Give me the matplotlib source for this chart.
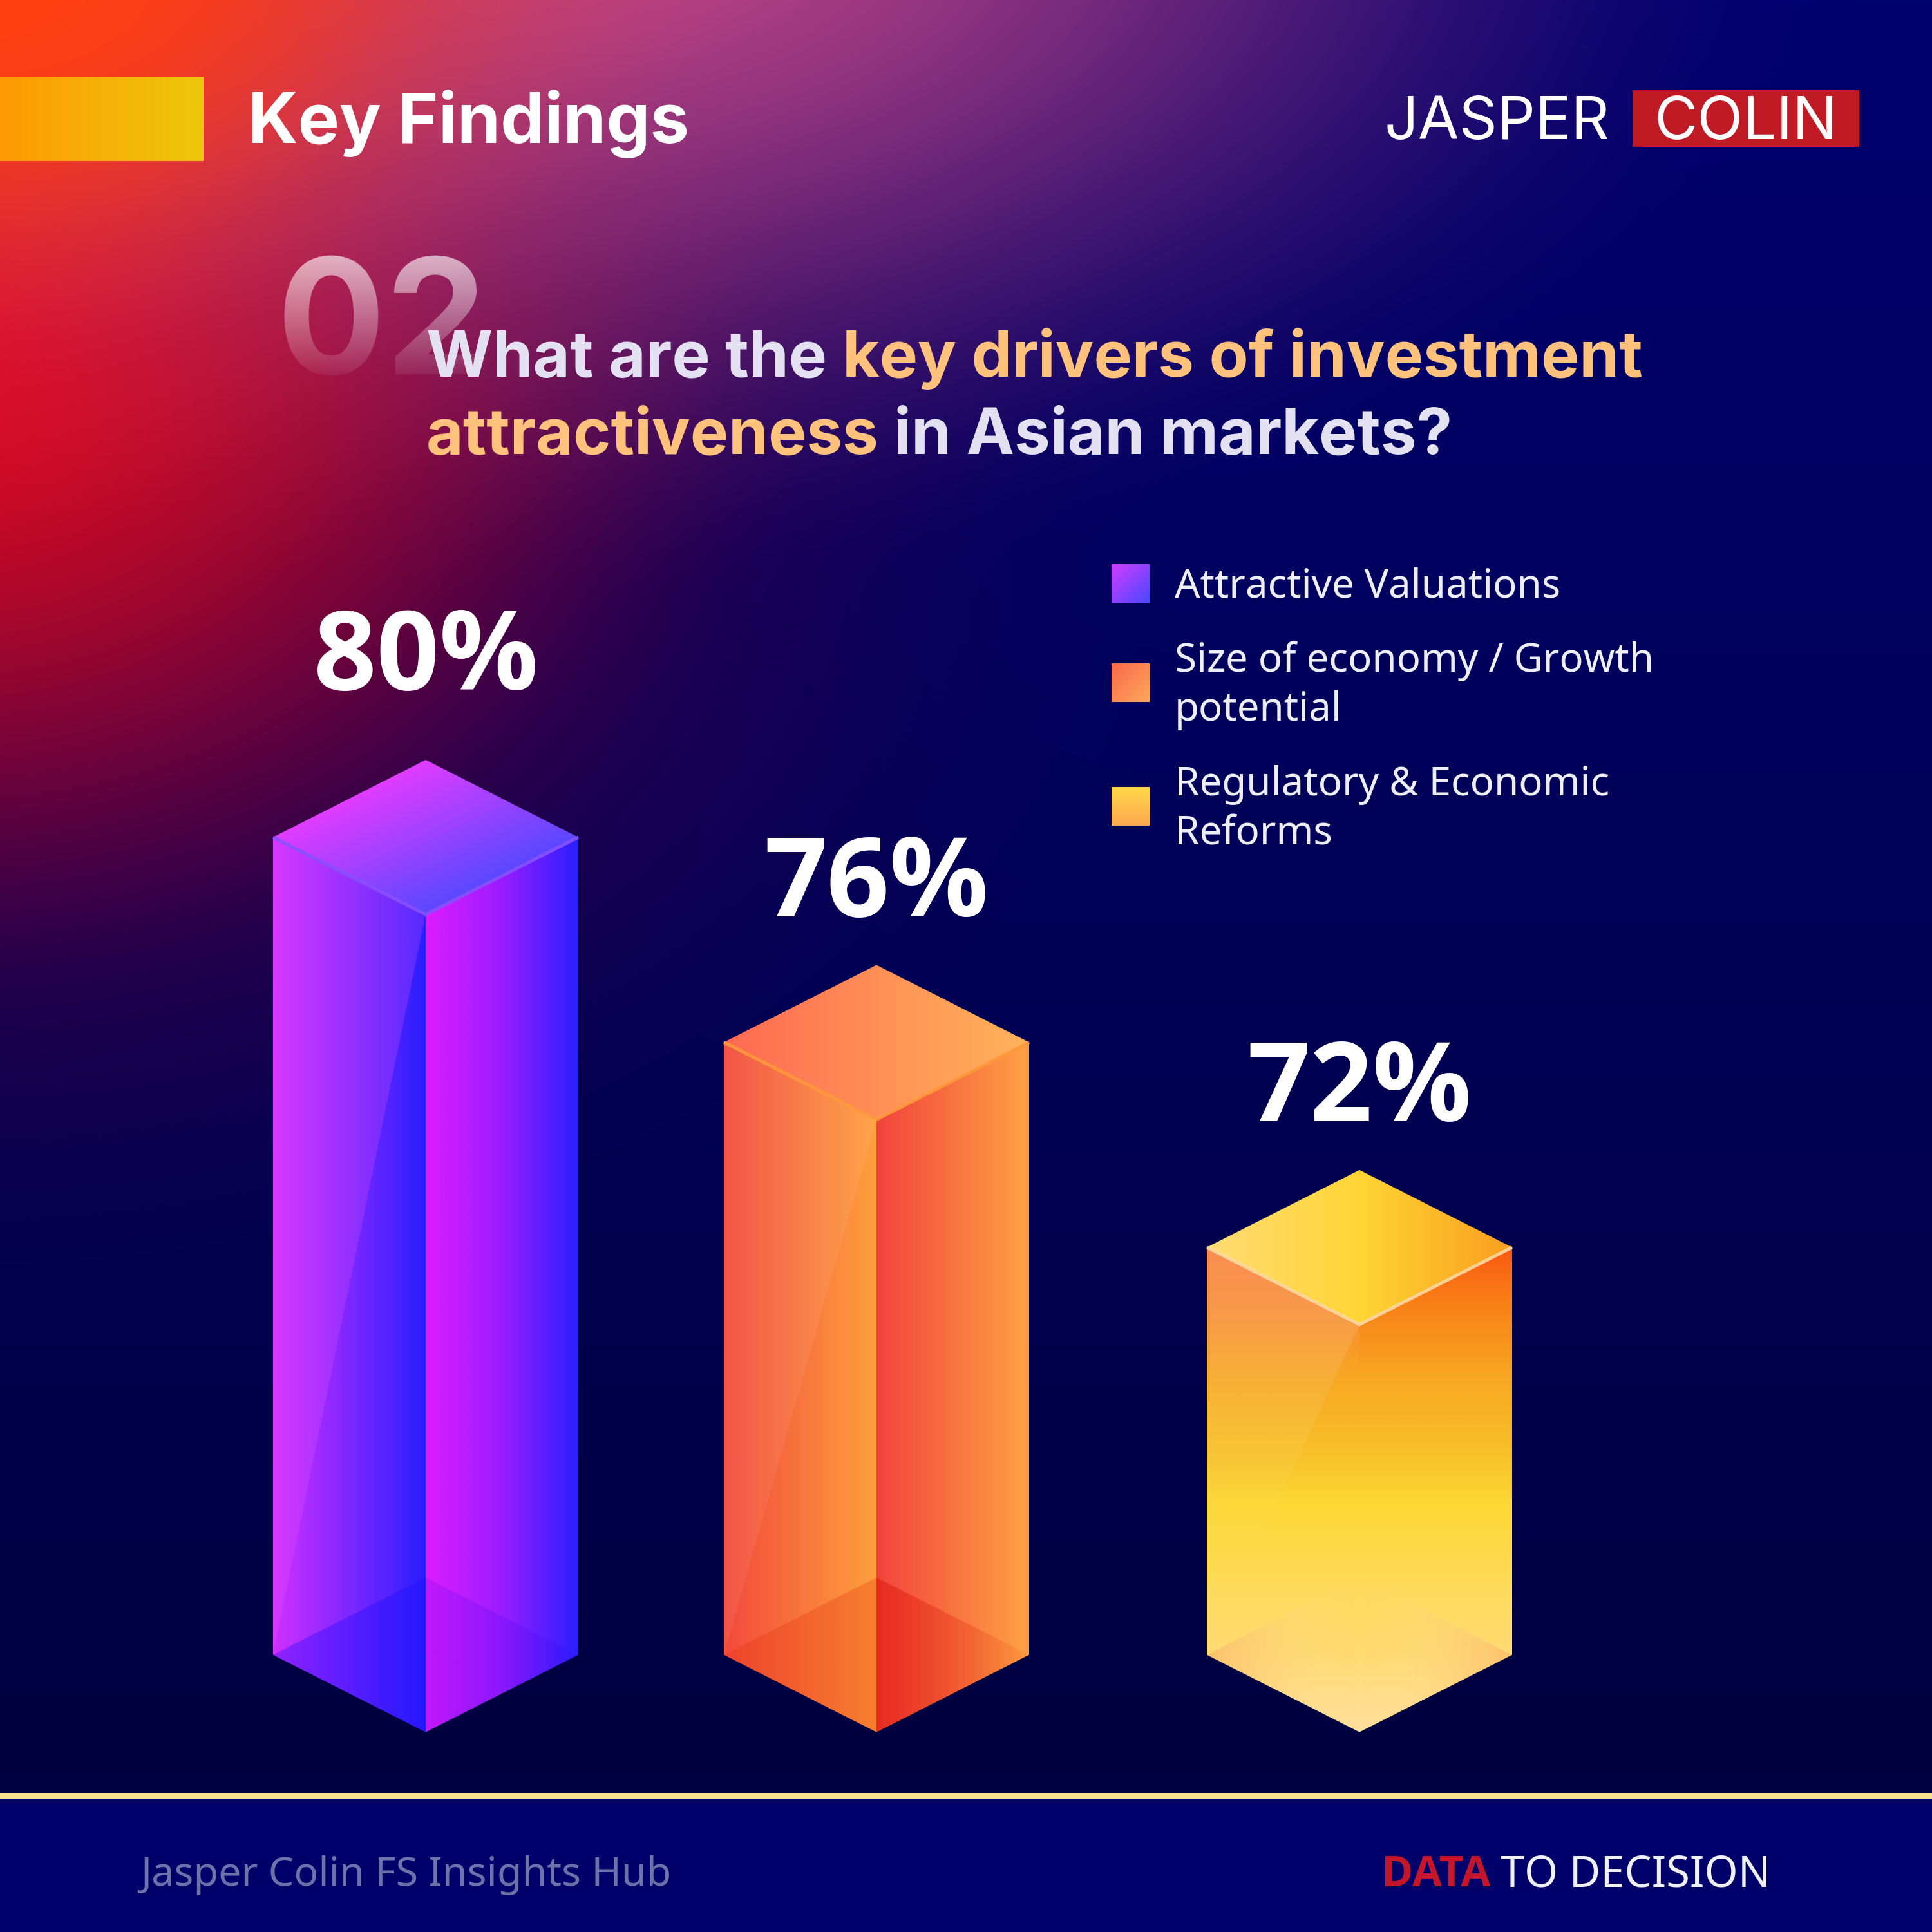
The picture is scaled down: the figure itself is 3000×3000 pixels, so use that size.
#!/usr/bin/env python3
import numpy as np
import matplotlib
matplotlib.use("Agg")
import matplotlib.pyplot as plt
from matplotlib.colors import LinearSegmentedColormap, to_rgb
from matplotlib.patches import Polygon, Rectangle, PathPatch
from matplotlib.textpath import TextPath
from matplotlib.font_manager import FontProperties
from matplotlib.transforms import Affine2D

# chart values
drivers = ["Attractive Valuations", "Size of economy / Growth\npotential", "Regulatory & Economic\nReforms"]
shares = [80, 76, 72]
share_labels = ["80%", "76%", "72%"]

# layout, in pixels of the 3000 px picture
bar_centers = [661, 1361, 2111]
bar_half_width = 237
px_per_point = 79.6      # one percentage point on the truncated bar scale
top_of_80 = 1420         # where the front corner of the 80% bar sits
base_value = 64.05       # value at the bottom corner of all bars
depth = 120 / px_per_point
label_offset = [109, 75, 76]

HEAD = "Inter"
BODY = "Noto Sans"
BOLD = "Open Sans"


def gradient_fill(ax, verts, stops, direction=(1, 0), zorder=2):
    # linear gradient through the polygon's bounding box, clipped to the polygon
    verts = np.array(verts, dtype=float)
    x0, y0 = verts.min(axis=0)
    x1, y1 = verts.max(axis=0)
    u, v = np.meshgrid(np.linspace(0, 1, 256), np.linspace(0, 1, 256))
    dx, dy = direction
    t = ((u - .5) * dx + (v - .5) * dy) / (abs(dx) + abs(dy)) + .5
    cmap = LinearSegmentedColormap.from_list("g", stops, N=512)
    lims = ax.get_xlim(), ax.get_ylim()
    im = ax.imshow(t, extent=(x0, x1, y0, y1), origin="lower", cmap=cmap, vmin=0, vmax=1,
                   aspect="auto", interpolation="bilinear", zorder=zorder)
    im.set_clip_path(Polygon(verts, closed=True, transform=ax.transData))
    ax.set_xlim(lims[0])
    ax.set_ylim(lims[1])


def white(a):
    return (1, 1, 1, a)


def glow(x, y, cx, cy, rx, ry):
    t = np.clip(1 - np.sqrt(((x - cx) / rx) ** 2 + ((y - cy) / ry) ** 2), 0, 1)
    return t * t * (3 - 2 * t)


def background():
    y, x = np.mgrid[0:3000:600j, 0:3000:600j]
    s = np.clip(y / 2750, 0, 1)[..., None]
    img = np.array(to_rgb("#00006e")) * (1 - s) + np.array(to_rgb("#010040")) * s
    layers = [
        ("#50003e", -100, 800, 2000, 1300, 1.0),
        ("#e00c22", -100, 500, 1400, 1100, 1.0),
        ("#bc4484", 900, -150, 2000, 1100, 1.0),
        ("#f53a2a", 100, -100, 1100, 700, 1.0),
        ("#ff4010", -50, -50, 800, 600, 1.0),
    ]
    for color, cx, cy, rx, ry, a in layers:
        m = (glow(x, y, cx, cy, rx, ry) * a)[..., None]
        img = img * (1 - m) + np.array(to_rgb(color)) * m
    return img


def text_run(ax, x, y, parts, **kw):
    # one line in several colours, each piece starts where the last one ended
    r = ax.figure.canvas.get_renderer()
    probe = ax.text(0, 0, "n n", **kw)
    probe2 = ax.text(0, 0, "nn", **kw)
    gap = probe.get_window_extent(r).width - probe2.get_window_extent(r).width
    probe.remove()
    probe2.remove()
    for s, c in parts:
        t = ax.text(x, y, s, color=c, **kw)
        x += t.get_window_extent(r).width + gap


bar_styles = [
    dict(
        top=([(0, "#f03cff"), (.25, "#e03cff"), (.75, "#5a48ff"), (1, "#4a48ff")], (1, -1)),
        left=([(0, "#d030ff"), (1, "#2a1eff")], (1, 0)),
        right=([(0, "#dc1cff"), (.5, "#9a1cff"), (1, "#2a20ff")], (1, 0)),
        gloss=[(0, (.95, .35, 1, .22)), (1, (.95, .35, 1, .22))],
        edge="#8a50ff",
        floor=([(0, (.1, .05, 1, .35)), (1, (.1, .05, 1, .35))], [(0, (.2, 0, .9, .15)), (1, (.2, 0, .9, .15))]),
    ),
    dict(
        top=([(0, "#ff6a52"), (1, "#ffb45c")], (1, 0)),
        left=([(0, "#f24a3c"), (1, "#ffa03e")], (1, 0)),
        right=([(0, "#f2443c"), (1, "#ffa244")], (1, 0)),
        gloss=[(0, white(.07)), (1, white(.07))],
        edge="#ff9a3c",
        floor=([(0, (.9, .2, .05, .30)), (1, (.9, .2, .05, .30))], [(0, (.88, .1, .05, .55)), (1, (.88, .1, .05, .05))]),
    ),
    dict(
        top=([(0, "#ffdc74"), (.5, "#ffd535"), (1, "#f99f20")], (1, 0)),
        left=([(0, "#fb7a30"), (.12, "#f88a30"), (.27, "#f7a823"), (.42, "#f7c02a"), (.53, "#fcd835"),
               (.72, "#ffdb60"), (.85, "#ffdc75"), (1, "#ffe0a0")], (0, -1)),
        right=([(0, "#fb5a12"), (.12, "#f88218"), (.27, "#f7a823"), (.42, "#f7c02a"), (.53, "#fcd835"),
                (.72, "#ffdb60"), (.85, "#ffdc75"), (1, "#ffe0a0")], (0, -1)),
        gloss=[(0, white(.16)), (.55, white(.05)), (.75, white(0)), (1, white(0))],
        edge="#ffd9a0",
        floor=([(0, (.98, .72, .42, .7)), (.7, (1, .85, .55, .1)), (1, (1, .85, .55, 0))],
               [(0, (1, .85, .55, 0)), (.3, (1, .85, .55, .1)), (1, (.98, .72, .42, .7))]),
    ),
]
legend_swatches = [
    ([(0, "#d23cff"), (1, "#4a48ff")], (1, -1)),
    ([(0, "#f8694a"), (1, "#ffa85c")], (1, -1)),
    ([(0, "#ffd84a"), (1, "#ffa850")], (0, -1)),
]
legend_y = [906, 1060, 1252]

fig = plt.figure(figsize=(10, 10), dpi=300)
fig.patch.set_facecolor("#010040")

# picture layer: x and y are pixels, y downwards
ax = fig.add_axes([0, 0, 1, 1])
ax.set_xlim(0, 3000)
ax.set_ylim(3000, 0)
ax.axis("off")
ax.imshow(background(), extent=(0, 3000, 3000, 0), aspect="auto", interpolation="bilinear", zorder=0)
ax.set_xlim(0, 3000)
ax.set_ylim(3000, 0)

# header
gradient_fill(ax, [(0, 120), (316, 120), (316, 250), (0, 250)], [(0, "#ff9a06"), (1, "#ecc80c")], (1, 0))
ax.text(385, 222, "Key Findings", color="white", fontsize=25.9, fontweight="bold", family=HEAD)
ax.text(2150, 216, "JASPER", color="white", fontsize=22.2, family=HEAD)
ax.add_patch(Rectangle((2535, 140), 352, 88, fc="#c01a24", ec="none", zorder=2))
ax.text(2568, 216, "COLIN", color="white", fontsize=22.2, family=HEAD, zorder=3)

# the faded 02 behind the question
fp02 = FontProperties(family=HEAD, weight="bold", size=60)
ax.text(430, 581, "02", color="white", alpha=.05, fontproperties=fp02, zorder=2)
path02 = TextPath((0, 0), "02", prop=fp02, size=60 * 300 / 72)
im02 = ax.imshow(np.linspace(0, 1, 128)[:, None], extent=(430, 760, 590, 380), aspect="auto",
                 cmap=LinearSegmentedColormap.from_list("f", [white(.68), white(0)]), zorder=2)
im02.set_clip_path(PathPatch(path02, transform=Affine2D().scale(1, -1).translate(430, 581) + ax.transData))
ax.set_xlim(0, 3000)
ax.set_ylim(3000, 0)

# question
q_kw = dict(fontsize=23.9, fontweight="bold", family=HEAD, zorder=4)
q_white = "#e4e2f2"
q_orange = "#ffc27c"
fig.canvas.draw()
text_run(ax, 662, 585, [("What are the", q_white), ("key drivers of investment", q_orange)], **q_kw)
text_run(ax, 662, 705, [("attractiveness", q_orange), ("in Asian markets?", q_white)], **q_kw)

# legend
for label, y, (stops, d) in zip(drivers, legend_y, legend_swatches):
    gradient_fill(ax, [(1726, y - 30), (1785, y - 30), (1785, y + 30), (1726, y + 30)], stops, (d[0], -d[1]))
    ax.text(1824, y + 5, label, color="#eeeef8", fontsize=14.85, family=BODY, va="center", linespacing=1.3, zorder=4)

# footer
ax.add_patch(Rectangle((0, 2792), 3000, 208, fc="#00006a", ec="none", zorder=1))
ax.add_patch(Rectangle((0, 2784), 3000, 9, fc="#f6e08c", ec="none", zorder=2))
ax.text(219, 2928, "Jasper Colin FS Insights Hub", color="#6d72aa", fontsize=15.05, family=BODY, zorder=3)
ax.text(2145, 2929, "DATA", color="#c4162a", fontsize=16, fontweight="bold", family=BOLD, zorder=3)
ax.text(2330, 2929, "TO DECISION", color="#f0f0f8", fontsize=16, family=BODY, zorder=3)

# bars: same pixels in x, percentage scale in y (truncated as in the source)
ax_bars = fig.add_axes([0, 0, 1, 1], facecolor="none")
ax_bars.set_xlim(0, 3000)
ax_bars.set_ylim(80 - (3000 - top_of_80) / px_per_point, 80 + top_of_80 / px_per_point)
ax_bars.axis("off")

for cx, value, label, off, st in zip(bar_centers, shares, share_labels, label_offset, bar_styles):
    xl, xr = cx - bar_half_width, cx + bar_half_width
    b = base_value
    left = [(xl, value + depth), (cx, value), (cx, b), (xl, b + depth)]
    right = [(cx, value), (xr, value + depth), (xr, b + depth), (cx, b)]
    top = [(xl, value + depth), (cx, value + 2 * depth), (xr, value + depth), (cx, value)]
    gradient_fill(ax_bars, left, st["left"][0], st["left"][1])
    gradient_fill(ax_bars, right, st["right"][0], st["right"][1])
    gradient_fill(ax_bars, top, st["top"][0], st["top"][1], zorder=3)
    # gloss on the left face
    gradient_fill(ax_bars, [(xl, value + depth), (cx, value), (xl, b + depth)], st["gloss"], (0, -1), zorder=3)
    # floor seen through the glass
    gradient_fill(ax_bars, [(xl, b + depth), (cx, b + 2 * depth), (cx, b)], st["floor"][0], (1, 0), zorder=3)
    gradient_fill(ax_bars, [(xr, b + depth), (cx, b + 2 * depth), (cx, b)], st["floor"][1], (1, 0), zorder=3)
    ax_bars.plot([xl, cx, xr], [value + depth, value, value + depth], color=st["edge"], lw=1.2, zorder=4,
                 solid_joinstyle="miter", solid_capstyle="butt", alpha=.9)
    ax_bars.text(cx, value + 2 * depth + off / px_per_point, label, color="white", fontsize=41, fontweight="bold",
                 family=BOLD, ha="center", va="baseline", zorder=5)

fig.savefig("out.png", dpi=300)
